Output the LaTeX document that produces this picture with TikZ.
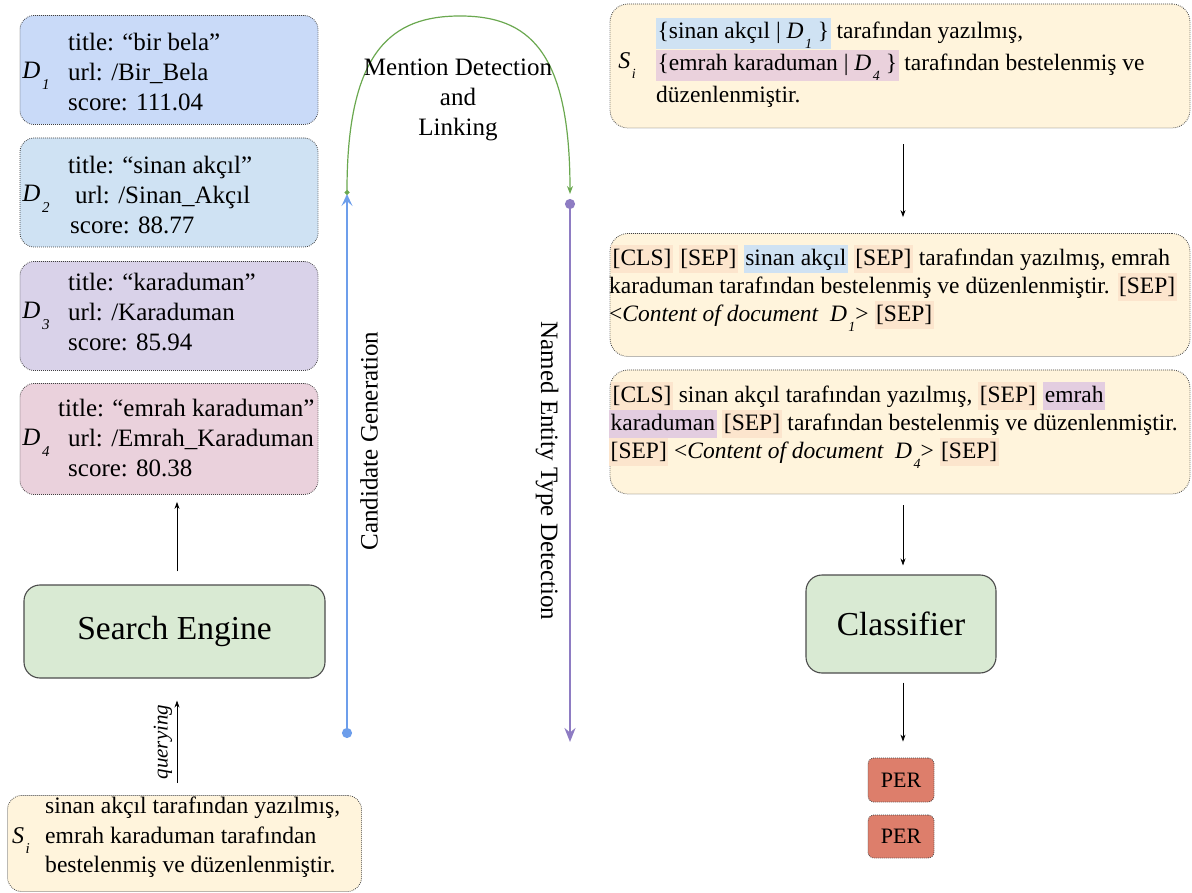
\documentclass[tikz,border=0pt]{standalone}
\usepackage{fontspec}
\setmainfont{Liberation Serif}
\usetikzlibrary{arrows.meta,calc}
\definecolor{cOne}{HTML}{C9DAF8}
\definecolor{cTwo}{HTML}{CFE2F3}
\definecolor{cThree}{HTML}{D9D2E9}
\definecolor{cFour}{HTML}{EAD1DC}
\definecolor{gfill}{HTML}{D9EAD3}
\definecolor{yfill}{HTML}{FFF4DC}
\definecolor{hlo}{HTML}{FCE5CD}
\definecolor{hlb}{HTML}{CFE2F3}
\definecolor{hlp}{HTML}{EAD1DC}
\definecolor{hlq}{HTML}{E3CDE0}
\definecolor{perc}{HTML}{DD7E6B}
\definecolor{lblue}{HTML}{6D9EEB}
\definecolor{lgreen}{HTML}{6AA84F}
\definecolor{lpurple}{HTML}{8E7CC3}
\newcommand\Dsub[3]{{\itshape #1}\kern1.5pt\raisebox{-0.42em}{\fontsize{#3}{#3}\selectfont\itshape #2}}
\newcommand\hlbox[2]{{\setlength{\fboxsep}{0pt}\colorbox{#1}{\rule[-7pt]{0pt}{28pt}\hspace{1.5pt}#2\hspace{1.5pt}}}}
\begin{document}
\begin{tikzpicture}[x=1pt,y=-1pt,
  docbox/.style={draw=black!75, dash pattern=on 0.8pt off 1.2pt, line width=0.8pt, rounded corners=14pt, inner sep=0pt},
  dbox/.style={docbox, minimum width=298pt, minimum height=109pt},
  procbox/.style={draw=black!70, line width=1.1pt, rounded corners=16pt, fill=gfill, inner sep=0pt},
  perbox/.style={docbox, rounded corners=6pt, fill=perc, minimum width=66pt, minimum height=44pt, font=\fontsize{22}{24}\selectfont},
  ltxt/.style={anchor=west, align=left, inner sep=0pt, font=\fontsize{25}{30}\selectfont},
  rtxt/.style={anchor=west, align=left, inner sep=0pt, font=\fontsize{23.5}{28}\selectfont},
  arr/.style={-{Stealth[length=7pt,width=5pt]}, line width=0.8pt},
  lbl/.style={inner sep=0pt, font=\fontsize{25}{30}\selectfont}]
\useasboundingbox (0,0) rectangle (1192,893);

% left document boxes
\node[dbox, fill=cOne] (d1) at (169,70) {};
\node[dbox, fill=cTwo] (d2) at (169,192.5) {};
\node[dbox, fill=cThree] (d3) at (169,316) {};
\node[dbox, fill=cFour, minimum height=111pt] (d4) at (169,439) {};

\node[ltxt] (d1t) at (68,72.5) {title: “bir bela”\\url: /Bir\_Bela\\score: 111.04};
\node[ltxt] (d2t) at (68,195) {title: “sinan akçıl”\\\hspace*{7pt}url: /Sinan\_Akçıl\\\hspace*{2pt}score: 88.77};
\node[ltxt] (d3t) at (68,312) {title: “karaduman”\\url: /Karaduman\\score: 85.94};
\node[ltxt] (d4t) at (58,438) {title: “emrah karaduman”\\\hspace*{10pt}url: /Emrah\_Karaduman\\\hspace*{10pt}score: 80.38};

\node[inner sep=0pt, font=\fontsize{25}{30}\selectfont] (d1l) at (36,76) {\Dsub{D}{1}{15}};
\node[inner sep=0pt, font=\fontsize{25}{30}\selectfont] (d2l) at (36,199) {\Dsub{D}{2}{15}};
\node[inner sep=0pt, font=\fontsize{25}{30}\selectfont] (d3l) at (36,316) {\Dsub{D}{3}{15}};
\node[inner sep=0pt, font=\fontsize{25}{30}\selectfont] (d4l) at (36,443) {\Dsub{D}{4}{15}};

% search engine
\node[procbox, minimum width=301pt, minimum height=93pt] (se) at (174.5,631.5) {\fontsize{33.5}{36}\selectfont Search Engine};

% sentence box bottom left
\node[docbox, fill=yfill, minimum width=354pt, minimum height=96pt] (si) at (184.5,843.5) {};
\node[ltxt, font=\fontsize{23.6}{29.5}\selectfont] (sit) at (45,837.5) {sinan akçıl tarafından yazılmış,\\emrah karaduman tarafından\\bestelenmiş ve düzenlenmiştir.};
\node[inner sep=0pt, font=\fontsize{24}{30}\selectfont] (sil) at (21,841) {\Dsub{S}{i}{15}};

\draw[arr, shorten <=13pt, shorten >=7pt] ([xshift=2.5pt]se.north) -- ([xshift=8pt]d4.south);
\draw[arr, shorten <=12pt, shorten >=22pt] ([xshift=-7.5pt]si.north) -- ([xshift=2.5pt]se.south);
\node[rotate=90, inner sep=0pt, font=\fontsize{21}{24}\selectfont\itshape] (q) at (163,742) {querying};

% pipeline lines
\coordinate (cgb) at (347,738);
\coordinate (cgt) at (347,194);
\draw[lblue, line width=2.2pt, {Circle[length=10pt]}-{Stealth[length=12pt,width=11pt,inset=5pt]}] (cgb) -- (cgt);
\coordinate (mdl) at (347,195);
\coordinate (mdr) at (570,194);
\draw[lgreen, line width=1.2pt, {Circle[length=5pt]}-{Stealth[length=8pt,width=6pt]}] (mdl) .. controls (347,50) and (392,16) .. (460,16) .. controls (528,16) and (570,50) .. (mdr);
\coordinate (ntt) at (570,199);
\coordinate (ntb) at (570,742);
\draw[lpurple, line width=2.2pt, {Circle[length=10pt]}-{Stealth[length=14pt,width=11pt]}] (ntt) -- (ntb);

\node[lbl, align=center] (mdlab) at (458,100) {Mention Detection\\and\\Linking};
\node[lbl, rotate=90] (cglab) at (369,441) {Candidate Generation};
\node[lbl, rotate=-90] (ntlab) at (547,471) {Named Entity Type Detection};

% right boxes
\node[docbox, fill=yfill, rounded corners=18pt, minimum width=580pt, minimum height=124pt] (rt) at (900,66) {};
\node[rtxt, font=\fontsize{23.5}{32}\selectfont] (rtt) at (656,63) {\hlbox{hlb}{\{sinan akçıl | \Dsub{D}{1}{14} \}} tarafından yazılmış,\\\hlbox{hlp}{\{emrah karaduman | \Dsub{D}{4}{14} \}} tarafından bestelenmiş ve\\düzenlenmiştir.};
\node[inner sep=0pt, font=\fontsize{24}{30}\selectfont] (rtl) at (627,66) {\Dsub{S}{i}{14}};

\node[docbox, fill=yfill, rounded corners=18pt, minimum width=580pt, minimum height=123pt] (b2) at (900,295) {};
\node[rtxt] (b2t) at (609,288) {\hspace*{2pt}\hlbox{hlo}{[CLS]} \hlbox{hlo}{[SEP]} \hlbox{hlb}{sinan akçıl} \hlbox{hlo}{[SEP]} tarafından yazılmış, emrah\\karaduman tarafından bestelenmiş ve düzenlenmiştir. \hlbox{hlo}{[SEP]}\\\textless\textit{Content of document\ \ \Dsub{D}{1}{14}}\textgreater\ \hlbox{hlo}{[SEP]}};

\node[docbox, fill=yfill, rounded corners=18pt, minimum width=580pt, minimum height=124pt] (b3) at (900,432) {};
\node[rtxt] (b3t) at (609,425) {\hspace*{2pt}\hlbox{hlo}{[CLS]} sinan akçıl tarafından yazılmış, \hlbox{hlo}{[SEP]} \hlbox{hlq}{emrah}\\\hlbox{hlq}{karaduman} \hlbox{hlo}{[SEP]} tarafından bestelenmiş ve düzenlenmiştir.\\\hlbox{hlo}{[SEP]} \textless\textit{Content of document\ \ \Dsub{D}{4}{14}}\textgreater\ \hlbox{hlo}{[SEP]}};

\node[procbox, minimum width=190pt, minimum height=98pt] (cl) at (901,624) {\fontsize{33.5}{36}\selectfont Classifier};
\node[perbox] (per1) at (901,780) {PER};
\node[perbox, minimum height=43pt] (per2) at (901,836.5) {PER};

\draw[arr, shorten <=16pt, shorten >=16pt] ([xshift=3pt]rt.south) -- ([xshift=3pt]b2.north);
\draw[arr, shorten <=11pt, shorten >=9pt] ([xshift=3pt]b3.south) -- ([xshift=2pt]cl.north);
\draw[arr, shorten <=9pt, shorten >=16pt] ([xshift=2pt]cl.south) -- ([xshift=2pt]per1.north);
\end{tikzpicture}
\end{document}
